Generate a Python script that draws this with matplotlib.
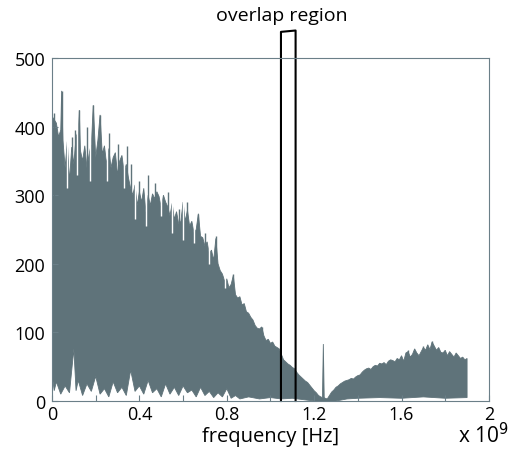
import numpy as np
import matplotlib
matplotlib.use("Agg")
import matplotlib.pyplot as plt

# upper envelope of the spectrum (frequency in GHz, amplitude)
freq_upper = [0.00, 0.01, 0.02, 0.03, 0.04, 0.044, 0.05, 0.06, 0.07, 0.08, 0.09,
              0.10, 0.11, 0.12, 0.125, 0.13, 0.14, 0.15, 0.16, 0.17, 0.18, 0.189,
              0.20, 0.21, 0.22, 0.23, 0.24, 0.25, 0.26, 0.27, 0.28, 0.29,
              0.30, 0.31, 0.32, 0.33, 0.34, 0.35, 0.36, 0.37, 0.38, 0.39,
              0.40, 0.41, 0.42, 0.43, 0.44, 0.45, 0.46, 0.47, 0.48, 0.49,
              0.50, 0.51, 0.52, 0.53, 0.54, 0.55, 0.56, 0.57, 0.58, 0.59,
              0.60, 0.61, 0.62, 0.63, 0.64, 0.65, 0.66, 0.67, 0.68, 0.69,
              0.70, 0.71, 0.72, 0.73, 0.74, 0.75, 0.76, 0.77, 0.78, 0.79,
              0.80, 0.81, 0.82, 0.83, 0.84, 0.85, 0.86, 0.87, 0.88, 0.89,
              0.90, 0.91, 0.92, 0.93, 0.94, 0.95, 0.96, 0.97, 0.98, 0.99,
              1.00, 1.01, 1.02, 1.03, 1.04, 1.05, 1.06, 1.07, 1.08, 1.09,
              1.10, 1.11, 1.12, 1.13, 1.14, 1.15, 1.16, 1.17, 1.18, 1.19,
              1.20, 1.21, 1.22, 1.23, 1.238, 1.242, 1.246, 1.25, 1.26, 1.27, 1.28, 1.29,
              1.30, 1.31, 1.32, 1.33, 1.34, 1.35, 1.36, 1.37, 1.38, 1.39,
              1.40, 1.41, 1.42, 1.43, 1.44, 1.45, 1.46, 1.47, 1.48, 1.49,
              1.50, 1.51, 1.52, 1.53, 1.54, 1.55, 1.56, 1.57, 1.58, 1.59,
              1.60, 1.61, 1.62, 1.63, 1.64, 1.65, 1.66, 1.67, 1.68, 1.69,
              1.70, 1.71, 1.72, 1.73, 1.74, 1.75, 1.76, 1.77, 1.78, 1.79,
              1.80, 1.81, 1.82, 1.83, 1.84, 1.85, 1.86, 1.87, 1.88, 1.89, 1.90]
upper = [415, 410, 405, 385, 395, 452, 380, 340, 378, 320, 370,
         345, 385, 393, 424, 365, 350, 372, 340, 360, 375, 431,
         355, 380, 417, 360, 372, 345, 368, 340, 355, 362,
         330, 350, 358, 335, 345, 325, 310, 300, 315, 285,
         305, 290, 310, 275, 300, 285, 302, 295, 305, 298,
         282, 300, 290, 283, 270, 288, 265, 276, 258, 262,
         290, 262, 278, 255, 262, 245, 250, 273, 240, 238,
         226, 232, 215, 220, 205, 237, 200, 190, 185, 175,
         178, 165, 170, 183, 155, 150, 152, 140, 142, 130,
         128, 122, 118, 110, 106, 105, 108, 95, 88, 90,
         84, 86, 80, 78, 76, 68, 60, 57, 54, 52,
         49, 47, 42, 38, 35, 32, 29, 27, 23, 19,
         15, 12, 8, 6, 5, 83, 5, 4, 3, 8, 13, 16,
         20, 22, 25, 27, 29, 30, 31, 33, 32, 35,
         37, 38, 42, 45, 47, 48, 46, 50, 52, 51,
         55, 54, 56, 53, 58, 60, 59, 57, 62, 60,
         66, 58, 70, 72, 64, 68, 76, 70, 66, 72,
         78, 74, 82, 75, 86, 80, 74, 78, 71, 70,
         74, 66, 72, 68, 64, 70, 66, 62, 64, 60, 62]

# lower envelope of the spectrum
freq_lower = [0.00, 0.01, 0.02, 0.04, 0.06, 0.08, 0.10, 0.11, 0.12, 0.14, 0.16,
              0.18, 0.20, 0.22, 0.24, 0.26, 0.28, 0.30, 0.32, 0.34, 0.36,
              0.38, 0.40, 0.42, 0.44, 0.46, 0.48, 0.50, 0.52, 0.54, 0.56,
              0.58, 0.60, 0.62, 0.64, 0.66, 0.68, 0.70, 0.72, 0.74, 0.76,
              0.78, 0.80, 0.82, 0.84, 0.86, 0.90, 0.95, 1.00, 1.05, 1.10,
              1.15, 1.20, 1.30, 1.35, 1.40, 1.50, 1.60, 1.70, 1.80, 1.90]
lower = [40, 15, 28, 10, 22, 12, 76, 15, 30, 8, 25,
         14, 36, 10, 18, 6, 28, 12, 20, 8, 45,
         14, 22, 10, 30, 12, 18, 6, 25, 10, 20,
         8, 22, 12, 16, 6, 20, 8, 14, 5, 12,
         6, 18, 4, 8, 3, 6, 3, 5, 3, 4,
         2, 0, 0, 3, 4, 5, 4, 6, 4, 5]

# single thin peaks rising above the envelope (GHz, amplitude)
peak_f = [0.008, 0.044, 0.092, 0.105, 0.125, 0.158, 0.189, 0.22, 0.262, 0.30,
          0.342, 0.362, 0.40, 0.44, 0.47, 0.53, 0.58, 0.616, 0.668, 0.70,
          0.75, 0.83, 0.96, 1.63, 1.70, 1.74]
peak_v = [420, 452, 385, 395, 424, 400, 431, 417, 390, 375,
          372, 345, 320, 330, 318, 305, 280, 290, 273, 245,
          240, 185, 108, 75, 80, 88]

# narrow white notches cutting down into the envelope (GHz, amplitude)
notch_f = [0.068, 0.115, 0.172, 0.25, 0.33, 0.38, 0.43, 0.50, 0.55, 0.60,
           0.65, 0.72, 0.79]
notch_v = [310, 330, 320, 320, 310, 265, 255, 270, 245, 235,
           230, 200, 165]

# overlap region box (GHz) and its top edge
overlap_f = [1.048, 1.115]
overlap_top = [538, 540]

color = "#5f737a"
fig = plt.figure(figsize=(5.11, 4.52), dpi=100)
ax = fig.add_axes([0.1018, 0.1106, 0.855, 0.759])

fu = np.array(freq_upper) * 1e9
fl = np.array(freq_lower) * 1e9
ax.fill(np.concatenate([fu, fl[::-1]]),
        np.concatenate([upper, lower[::-1]]),
        color=color, lw=0.6, ec=color)
pv = np.array(peak_v)
ax.vlines(np.array(peak_f) * 1e9, pv * 0.5, pv, color=color, lw=1.0)
ax.vlines(np.array(notch_f) * 1e9, notch_v, 500, color="white", lw=1.0)

f0, f1 = overlap_f[0] * 1e9, overlap_f[1] * 1e9
ax.plot([f0, f0, f1, f1], [0, overlap_top[0], overlap_top[1], 0],
        color="black", lw=1.5, clip_on=False, zorder=5)
ax.text(1.053e9, 563, "overlap region", ha="center", va="center",
        fontsize=14, clip_on=False, family="Open Sans")

ax.set_xlim(0, 2e9)
ax.set_ylim(0, 500)
xt = np.arange(0, 2.01, 0.2)
ax.set_xticks(xt * 1e9)
ax.set_xticklabels(["0" if v == 0 else ("2" if abs(v - 2) < 1e-9 else f"{v:.1f}")
                    if round(v * 10) % 4 == 0 else "" for v in xt])
ax.set_yticks(range(0, 501, 100))
ax.tick_params(direction="in", length=4, labelsize=13, color="#6b7f88")
ax.tick_params(axis="y", pad=5)
ax.tick_params(axis="x", pad=3)
for s in ax.spines.values():
    s.set_color("#6b7f88")
    s.set_zorder(6)
ax.set_xlabel("frequency [Hz]", fontsize=14.5, labelpad=2)
fig.text(0.945, 0.02, r"x 10$^9$", ha="center", va="baseline", fontsize=15,
         family="Open Sans")

for t in ax.get_xticklabels() + ax.get_yticklabels():
    t.set_family("Open Sans")
ax.xaxis.label.set_family("Open Sans")

fig.savefig("out.png", dpi=100)
